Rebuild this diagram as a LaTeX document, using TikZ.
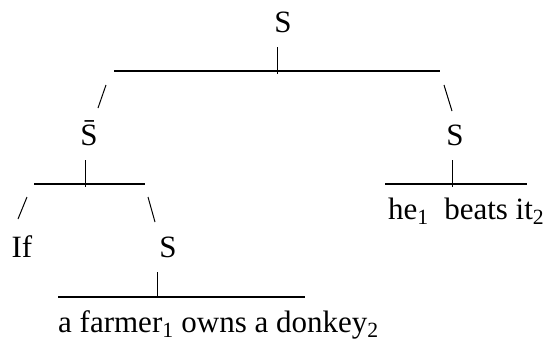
\documentclass[tikz,border=0pt]{standalone}
\usepackage{fontspec}
\setmainfont{Liberation Serif}
\usepackage{tikz}

\begin{document}
\begin{tikzpicture}[x=1pt, y=-1pt,
  word/.style={font=\rmfamily\fontsize{31}{37}\selectfont, inner sep=0pt, anchor=base},
  phrase/.style={word, anchor=base west},
  bar/.style={line width=2pt},
  twig/.style={line width=1pt},
]
\useasboundingbox (0,0) rectangle (547,343);
% Labels (baselines at 32 / 145 / 257)
\node[word]   at (283,32)  (root) {S};
\node[word]   at (89,145)  (sbar) {\=S};
\node[word]   at (455,145) (sr)   {S};
\node[word]   at (22,257)  (ifw)  {If};
\node[word]   at (168,257) (se)   {S};
\node[phrase] at (58,332)  (farmer) {a farmer\textsubscript{1} owns a donkey\textsubscript{2}};
\node[phrase] at (388,219) (beats)  {he\textsubscript{1}\ \ beats it\textsubscript{2}};
% Bars
\coordinate (b1l) at (114,71);  \coordinate (b1r) at (440,71);
\coordinate (b2l) at (34,184);  \coordinate (b2r) at (145,184);
\coordinate (b3l) at (385,184); \coordinate (b3r) at (527,184);
\coordinate (b4l) at (58,297);  \coordinate (b4r) at (305,297);
\draw[bar] (b1l) -- (b1r);
\draw[bar] (b2l) -- (b2r);
\draw[bar] (b3l) -- (b3r);
\draw[bar] (b4l) -- (b4r);
% Ticks under the labels
\draw[twig] (root.base) ++(-6,15) -- ++(0,27);
\draw[twig] (sbar.base) ++(-4,15) -- ++(0,27);
\draw[twig] (sr.base)   ++(-3,15) -- ++(0,27);
\draw[twig] (se.base)   ++(-11,15) -- ++(0,26);
% Slashes down to the daughters
\draw[twig] (b1l) ++(-8,14) -- ++(-8,23);
\draw[twig] (b1r) ++(4,14)  -- ++(8,26);
\draw[twig] (b2l) ++(-7,13) -- ++(-9,22);
\draw[twig] (b2r) ++(3,13)  -- ++(7,25);
\end{tikzpicture}
\end{document}
